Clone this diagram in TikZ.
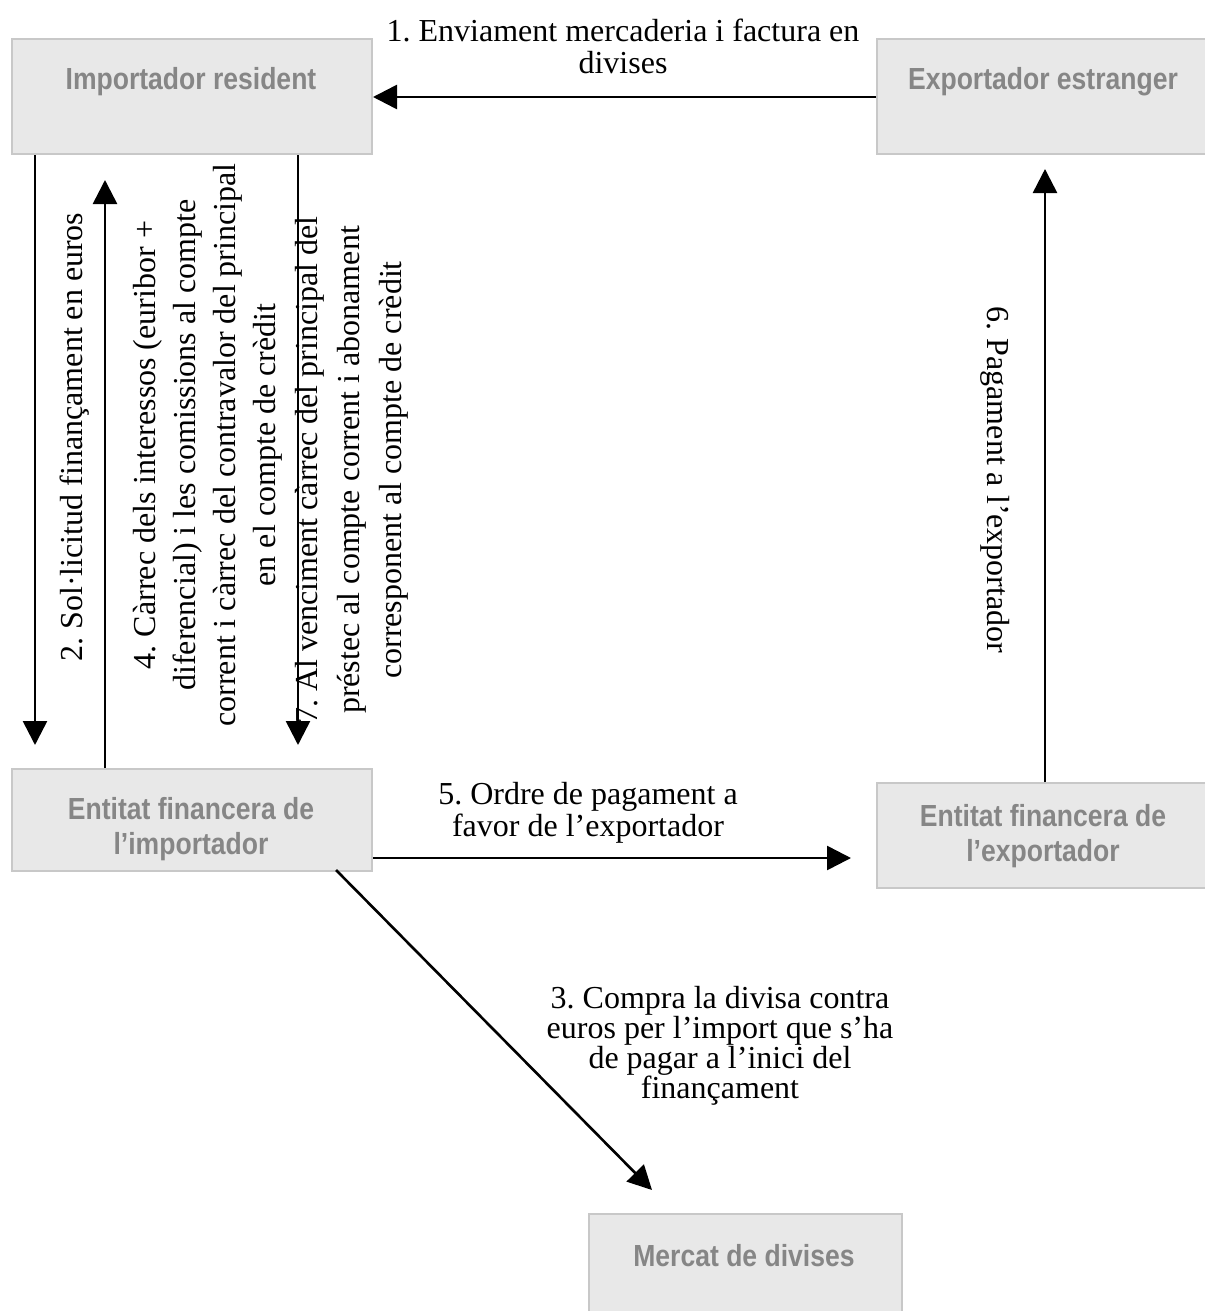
\documentclass[tikz,border=0pt]{standalone}
\usepackage{fontspec}
\setmainfont{Liberation Serif}
\newfontfamily\boxfont[FakeStretch=0.87]{Liberation Sans}
\usetikzlibrary{arrows.meta,calc}
\definecolor{boxfill}{HTML}{E8E8E8}
\definecolor{boxline}{HTML}{C8C8C8}
\definecolor{boxtextc}{HTML}{868686}
\tikzset{
  box/.style={draw=boxline, fill=boxfill, line width=2pt, rectangle, anchor=north west, inner sep=0pt},
  boxtxt/.style={text=boxtextc, font=\boxfont\bfseries\fontsize{30.5}{35}\selectfont, align=center, anchor=center, inner sep=0pt},
  arr/.style={line width=2.6pt, -{Triangle[length=24pt,width=24pt]}},
  lbl/.style={align=center, inner sep=0pt, font=\fontsize{32}{32}\selectfont}
}
\frenchspacing
\begin{document}
\begin{tikzpicture}[x=1pt,y=-1pt]
\useasboundingbox (0,0) rectangle (1204,1311);
% boxes
\node[box, minimum width=360pt, minimum height=115pt] (imp) at (11,38) {};
\node[boxtxt] (imptxt) at (191,82) {Importador resident};
\node[box, minimum width=330pt, minimum height=115pt] (exp) at (876,38) {};
\node[boxtxt] (exptxt) at (1043,82) {Exportador estranger};
\node[box, minimum width=360pt, minimum height=102pt] (impfin) at (11,768) {};
\node[boxtxt] (impfintxt) at (191,829) {Entitat financera de\\l’importador};
\node[box, minimum width=330pt, minimum height=105pt] (expfin) at (876,782) {};
\node[boxtxt] (expfintxt) at (1043,836) {Entitat financera de\\l’exportador};
\node[box, minimum width=313pt, minimum height=110pt] (merc) at (588,1213) {};
\node[boxtxt] (merctxt) at (744,1256) {Mercat de divises};
% arrows
\draw[arr] (exp.west |- 0,97) -- (imp.east |- 0,97);
\draw[arr, shorten >=23pt] (imp.south west -| 35,0) -- (impfin.north west -| 35,0);
\draw[arr, shorten >=25pt] (impfin.north west -| 105,0) -- (imp.south west -| 105,0);
\draw[arr, shorten >=23pt] (imp.south west -| 298,0) -- (impfin.north west -| 298,0);
\draw[arr, shorten >=14pt] (expfin.north west -| 1045,0) -- (exp.south west -| 1045,0);
\draw[arr, shorten >=25pt] (impfin.east |- 0,858) -- (expfin.west |- 0,858);
\coordinate (c3s) at (336,870);
\coordinate (c3e) at (652,1190);
\draw[arr] (c3s) -- (c3e);
% labels
\node[lbl] (l1) at (623,46) {1. Enviament mercaderia i factura en\\divises};
\node[lbl, rotate=90] (l2) at (75,437) {2. Sol·licitud finançament en euros};
\node[lbl, rotate=90, font=\fontsize{32}{40}\selectfont] (l4) at (208,445) {4. Càrrec dels interessos (euribor +\\diferencial) i les comissions al compte\\corrent i càrrec del contravalor del principal\\en el compte de crèdit};
\node[lbl, rotate=90, font=\fontsize{32}{42}\selectfont] (l7) at (352,470) {7. Al venciment càrrec del principal del\\préstec al compte corrent i abonament\\corresponent al compte de crèdit};
\node[lbl, rotate=-90] (l6) at (995,480) {6. Pagament a l’exportador};
\node[lbl] (l5) at (588,813) {5. Ordre de pagament a\\favor de l’exportador};
\node[lbl, font=\fontsize{32}{27.3}\selectfont] (l3) at (720,1046) {3. Compra la divisa contra\\euros per l’import que s’ha\\de pagar a l’inici del\\finançament};
\end{tikzpicture}
\end{document}
